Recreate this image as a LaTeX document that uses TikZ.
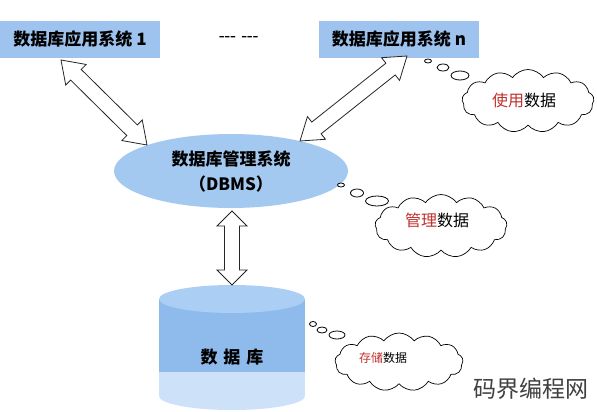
\documentclass[tikz,border=0pt]{standalone}
\usepackage{fontspec}
\usetikzlibrary{shapes.geometric,shapes.symbols,calc}
\newfontfamily\cjk{Noto Sans CJK SC}
\definecolor{boxblue}{HTML}{9DC3EE}
\definecolor{ellblue}{HTML}{A4C9F1}
\definecolor{cyltop}{HTML}{ABCEF4}
\definecolor{cylbody}{HTML}{8FBBEC}
\definecolor{cylbottom}{HTML}{CDE2F8}
\definecolor{redtxt}{HTML}{C0302C}
% hollow double arrow between two named points:
% #1 start, #2 end, #3 head length, #4 head half width, #5 shaft half width
\newcommand{\hollowarr}[5]{%
\draw[arrowline] (#1)
 -- ($($(#1)!#3!(#2)$)!#4!90:(#2)$)
 -- ($($(#1)!#3!(#2)$)!#5!90:(#2)$)
 -- ($($(#2)!#3!(#1)$)!#5!-90:(#1)$)
 -- ($($(#2)!#3!(#1)$)!#4!-90:(#1)$)
 -- (#2)
 -- ($($(#2)!#3!(#1)$)!#4!90:(#1)$)
 -- ($($(#2)!#3!(#1)$)!#5!90:(#1)$)
 -- ($($(#1)!#3!(#2)$)!#5!-90:(#2)$)
 -- ($($(#1)!#3!(#2)$)!#4!-90:(#2)$)
 -- cycle;}
\begin{document}
\begin{tikzpicture}[x=1pt,y=-1pt,
  appbox/.style={fill=boxblue, minimum width=160pt, minimum height=37pt, inner sep=0pt,
    font=\cjk\bfseries\fontsize{17}{20}\selectfont},
  arrowline/.style={draw=black!85, line width=0.8pt, fill=white, line join=miter},
  bubble/.style={ellipse, draw=black, line width=0.8pt, fill=white, inner sep=0pt},
  thought/.style={cloud, cloud puffs=13, cloud puff arc=110, draw=black, line width=0.7pt,
    fill=white, inner sep=0pt, cloud ignores aspect},
  cloudtxt/.style={font=\cjk\fontsize{16}{18}\selectfont}
]
\useasboundingbox[fill=white] (0,0) rectangle (597,412);

% application boxes
\node[appbox] (app1) at (80,39.5) {数据库应用系统 1};
\node[appbox] (appn) at (399,39.5) {数据库应用系统 n};
\node[font=\bfseries\fontsize{15}{16}\selectfont] (dots) at (239,38) {{-}{-}{-}\ {-}{-}{-}};

% DBMS ellipse
\node[ellipse, fill=ellblue, minimum width=234pt, minimum height=74pt, inner sep=0pt, align=center,
  font=\cjk\bfseries\fontsize{17}{25}\selectfont] (dbms) at (231,171) {数据库管理系统\\（DBMS）};

% database cylinder
\fill[cylbottom] (232,396) ellipse [x radius=73, y radius=14];
\fill[cylbottom] (159,372) rectangle (305,396);
\fill[cylbody] (159,299) rectangle (305,372);
\fill[cyltop] (232,299) ellipse [x radius=73, y radius=14];
\coordinate (dbtop) at (232,285);
\node[font=\cjk\bfseries\fontsize{17}{20}\selectfont] (db) at (232,357) {数\hspace{6pt}据\hspace{6pt}库};

% endpoints of hollow arrows
\coordinate (a1s) at (61,60);
\coordinate (a1e) at (147,145);
\coordinate (ans) at (407,56);
\coordinate (ane) at (300,141);
\coordinate (vs) at (232,211);

% hollow double arrows
\hollowarr{a1s}{a1e}{21pt}{14.5pt}{7.5pt}
\hollowarr{ans}{ane}{21pt}{14.5pt}{7.5pt}
\hollowarr{vs}{dbtop}{15pt}{15pt}{7.5pt}

% thought bubbles and clouds
\node[bubble, minimum width=7pt, minimum height=4pt] (b11) at (428,61) {};
\node[bubble, minimum width=12pt, minimum height=7pt] (b12) at (443,67.5) {};
\node[bubble, minimum width=18pt, minimum height=9pt] (b13) at (460,75.5) {};
\node[thought, minimum width=132pt, minimum height=63pt] (c1) at (528,101) {};
\node[cloudtxt] (t1) at (524,100) {\textcolor{redtxt}{使用}数据};

\node[bubble, minimum width=7pt, minimum height=4pt] (b21) at (341,185) {};
\node[bubble, minimum width=13pt, minimum height=8pt] (b22) at (357,193) {};
\node[bubble, minimum width=23pt, minimum height=10pt] (b23) at (377,201) {};
\node[thought, minimum width=132pt, minimum height=63pt] (c2) at (441,226) {};
\node[cloudtxt] (t2) at (437,220) {\textcolor{redtxt}{管理}数据};

\node[bubble, minimum width=7pt, minimum height=5pt] (b31) at (313,324) {};
\node[bubble, minimum width=10pt, minimum height=6pt] (b32) at (322,330) {};
\node[bubble, minimum width=16pt, minimum height=8pt] (b33) at (337,335) {};
\node[thought, minimum width=128pt, minimum height=58pt] (c3) at (399,362) {};
\node[cloudtxt, font=\cjk\fontsize{12}{14}\selectfont] (t3) at (383,358) {\textcolor{redtxt}{存储}数据};

% watermark
\node[font=\cjk\fontsize{23}{26}\selectfont, text=black!75] (wm) at (531,389) {码界编程网};
\end{tikzpicture}
\end{document}
